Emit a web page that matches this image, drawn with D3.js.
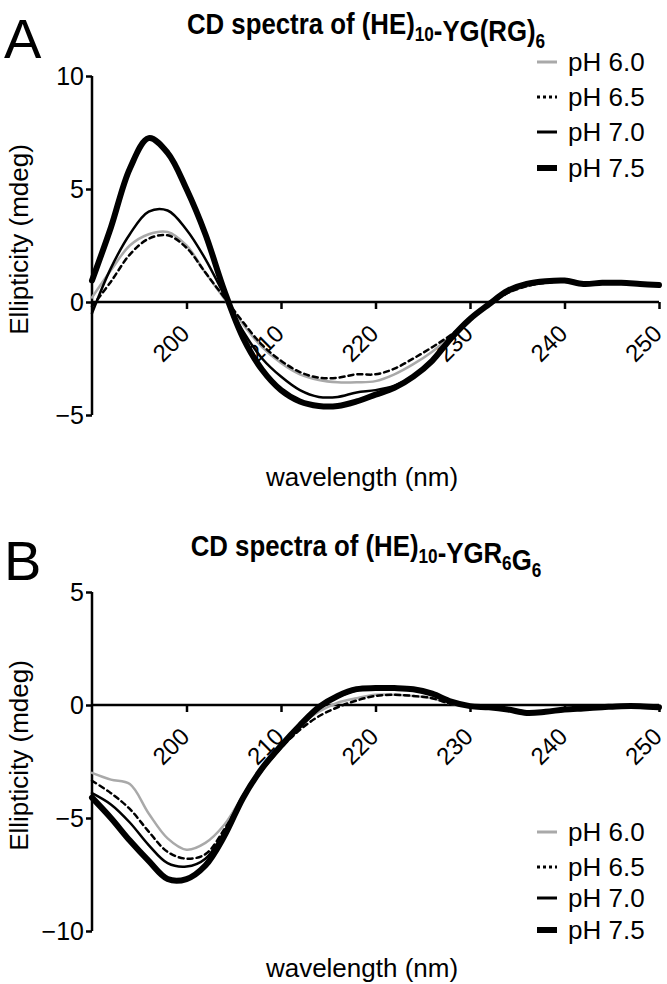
<!DOCTYPE html>
<html><head><meta charset="utf-8">
<script src="https://cdn.jsdelivr.net/npm/d3@7/dist/d3.min.js"></script>
<style>
html,body{margin:0;padding:0;background:#fff;}
svg{display:block;}
text{font-family:"Liberation Sans",Arial,sans-serif;fill:#000;}
.title{font-family:"Liberation Sans",Arial,sans-serif;font-weight:bold;}
</style></head>
<body>
<script>
// ---------- data ----------
const wavelengths = [190,192,194,196,198,200,202,204,206,208,210,212,214,216,218,220,222,224,226,228,230,232,234,236,238,240,242,244,246,248,250];
const seriesNames = ["pH 6.0","pH 6.5","pH 7.0","pH 7.5"];
const xTicks = [200,210,220,230,240,250];

// Panel A: (HE)10-YG(RG)6
const yTicksA = [-5,0,5,10];
const A_pH60 = [0.2,1.4,2.5,3.0,3.1,2.5,1.3,0.15,-1.0,-2.0,-2.7,-3.2,-3.45,-3.55,-3.55,-3.5,-3.2,-2.75,-2.2,-1.5,-0.8,-0.15,0.4,0.7,0.85,0.9,0.8,0.82,0.82,0.78,0.75];
const A_pH65 = [-0.2,0.9,2.1,2.8,2.95,2.4,1.3,0.2,-0.9,-1.9,-2.6,-3.1,-3.35,-3.35,-3.2,-3.2,-2.95,-2.5,-2.0,-1.45,-0.8,-0.15,0.4,0.7,0.85,0.9,0.8,0.82,0.82,0.78,0.75];
const A_pH70 = [-0.5,1.5,3.0,4.0,4.05,3.2,1.9,0.3,-1.3,-2.5,-3.3,-3.9,-4.2,-4.2,-4.0,-3.9,-3.7,-3.3,-2.6,-1.6,-0.75,-0.1,0.5,0.8,0.9,0.95,0.8,0.85,0.85,0.8,0.75];
const A_pH75 = [0.95,3.3,5.9,7.25,6.6,5.0,3.0,0.5,-1.6,-3.0,-3.9,-4.4,-4.6,-4.6,-4.4,-4.1,-3.8,-3.3,-2.6,-1.6,-0.75,-0.1,0.5,0.8,0.92,0.95,0.8,0.85,0.85,0.8,0.75];

// Panel B: (HE)10-YGR6G6
const yTicksB = [-10,-5,0,5];
const B_pH60 = [-3.0,-3.3,-3.5,-4.8,-5.9,-6.4,-6.1,-5.3,-4.0,-2.8,-1.8,-0.9,-0.3,0.1,0.3,0.45,0.45,0.4,0.3,0.05,-0.05,-0.1,-0.15,-0.3,-0.3,-0.2,-0.15,-0.1,-0.05,-0.05,-0.1];
const B_pH65 = [-3.35,-3.9,-4.6,-5.6,-6.5,-6.8,-6.6,-5.5,-4.1,-2.9,-1.9,-1.1,-0.5,-0.1,0.2,0.4,0.45,0.4,0.3,0.05,-0.05,-0.1,-0.2,-0.3,-0.3,-0.2,-0.15,-0.1,-0.05,-0.05,-0.1];
const B_pH70 = [-3.9,-4.4,-5.2,-6.2,-7.0,-7.15,-6.8,-5.6,-4.0,-2.8,-1.8,-0.9,-0.15,0.35,0.65,0.75,0.75,0.65,0.45,0.1,-0.05,-0.1,-0.2,-0.3,-0.3,-0.2,-0.15,-0.1,-0.05,-0.05,-0.1];
const B_pH75 = [-4.1,-5.0,-6.0,-6.9,-7.7,-7.7,-7.1,-5.8,-4.1,-2.8,-1.8,-0.9,-0.1,0.4,0.7,0.75,0.75,0.7,0.5,0.15,-0.05,-0.1,-0.2,-0.35,-0.3,-0.2,-0.15,-0.1,-0.05,-0.05,-0.1];

// ---------- styles ----------
const styles = [
  {stroke:"#a9a9a9", width:2.5, dash:null},
  {stroke:"#000", width:2.5, dash:"5,4"},
  {stroke:"#000", width:2.5, dash:null},
  {stroke:"#000", width:6, dash:null}
];

const W = 667, H = 984;
const svg = d3.select("body").append("svg").attr("width",W).attr("height",H);

function drawPanel(cfg){
  const g = svg.append("g");
  const x = d3.scaleLinear().domain([190,250]).range([92,659]);
  const y = d3.scaleLinear().domain(cfg.yDomain).range([cfg.yBottom,cfg.yTop]);

  // panel letter
  g.append("text").attr("x",4).attr("y",cfg.letterY).attr("font-size",56).text(cfg.letter);

  // title (condensed bold)
  const t = g.append("text").attr("class","title")
    .attr("transform",`translate(366,${cfg.titleY}) scale(0.86,1)`)
    .attr("text-anchor","middle").attr("font-size",30);
  cfg.titleParts.forEach(p=>{
    if(p.sub){
      t.append("tspan").attr("font-size",20).attr("dy",7).text(p.t);
      t.append("tspan").attr("dy",-7).text("");
    } else t.append("tspan").text(p.t);
  });

  // y axis
  const yAxis = d3.axisLeft(y).tickValues(cfg.yTicks).tickSize(6).tickSizeOuter(0).tickFormat(d3.format("d"));
  const ya = g.append("g").attr("transform","translate(92,0)").call(yAxis);
  ya.select(".domain").attr("stroke-width",2.5).attr("d",`M0,${y(cfg.yDomain[1])}V${y(cfg.yDomain[0])}`);
  ya.selectAll(".tick line").attr("stroke-width",2.5);
  ya.selectAll(".tick text").attr("font-size",25).attr("x",-8).attr("font-family","Liberation Sans,Arial,sans-serif");

  // x axis at y=0
  const xAxis = d3.axisBottom(x).tickValues(xTicks).tickSize(7).tickSizeOuter(0).tickFormat(d3.format("d"));
  const xa = g.append("g").attr("transform",`translate(0,${y(0)})`).call(xAxis);
  xa.select(".domain").attr("stroke-width",2.5).attr("d",`M${x(190)},0H${x(250)}`);
  xa.selectAll(".tick line").attr("stroke-width",2.5);
  xa.selectAll(".tick text").attr("font-size",24).attr("font-family","Liberation Sans,Arial,sans-serif")
    .attr("text-anchor","end").attr("dy",null).attr("y",null)
    .attr("transform","translate(4,33) rotate(-45)");

  // axis titles
  g.append("text").attr("font-size",26).attr("text-anchor","middle")
    .attr("transform",`translate(28,${(cfg.yTop+cfg.yBottom)/2-6}) rotate(-90)`).text("Ellipticity (mdeg)");
  g.append("text").attr("font-size",26).attr("text-anchor","middle")
    .attr("x",362).attr("y",cfg.xLabelY).text("wavelength (nm)");

  // lines
  const line = d3.line().x((d,i)=>x(wavelengths[i])).y(d=>y(d)).curve(d3.curveCatmullRom.alpha(0.5));
  cfg.series.forEach((s,i)=>{
    const st = styles[i];
    g.append("path").attr("d",line(s)).attr("fill","none").attr("stroke",st.stroke)
      .attr("stroke-width",st.width).attr("stroke-dasharray",st.dash).attr("stroke-linejoin","round").attr("stroke-linecap","round");
  });

  // legend
  const lg = g.append("g");
  seriesNames.forEach((n,i)=>{
    const st = styles[i];
    const yy = cfg.legendY[i];
    lg.append("line").attr("x1",537).attr("x2",557).attr("y1",yy).attr("y2",yy)
      .attr("stroke",st.stroke).attr("stroke-width",i===3?6:3).attr("stroke-dasharray",i===1?"3,3":null);
    lg.append("text").attr("x",568).attr("y",yy).attr("dy","0.35em").attr("font-size",26).text(n);
  });
}

drawPanel({
  letter:"A", letterY:58, titleY:34,
  titleParts:[{t:"CD spectra of (HE)"},{t:"10",sub:true},{t:"-YG(RG)"},{t:"6",sub:true}],
  yDomain:[-5,10], yTop:76, yBottom:415, yTicks:yTicksA,
  xLabelY:486, legendY:[62,97,132,168],
  series:[A_pH60,A_pH65,A_pH70,A_pH75]
});
drawPanel({
  letter:"B", letterY:580, titleY:556,
  titleParts:[{t:"CD spectra of (HE)"},{t:"10",sub:true},{t:"-YGR"},{t:"6",sub:true},{t:"G"},{t:"6",sub:true}],
  yDomain:[-10,5], yTop:592, yBottom:931, yTicks:yTicksB,
  xLabelY:977, legendY:[832,867,898,930],
  series:[B_pH60,B_pH65,B_pH70,B_pH75]
});
</script>
</body></html>
